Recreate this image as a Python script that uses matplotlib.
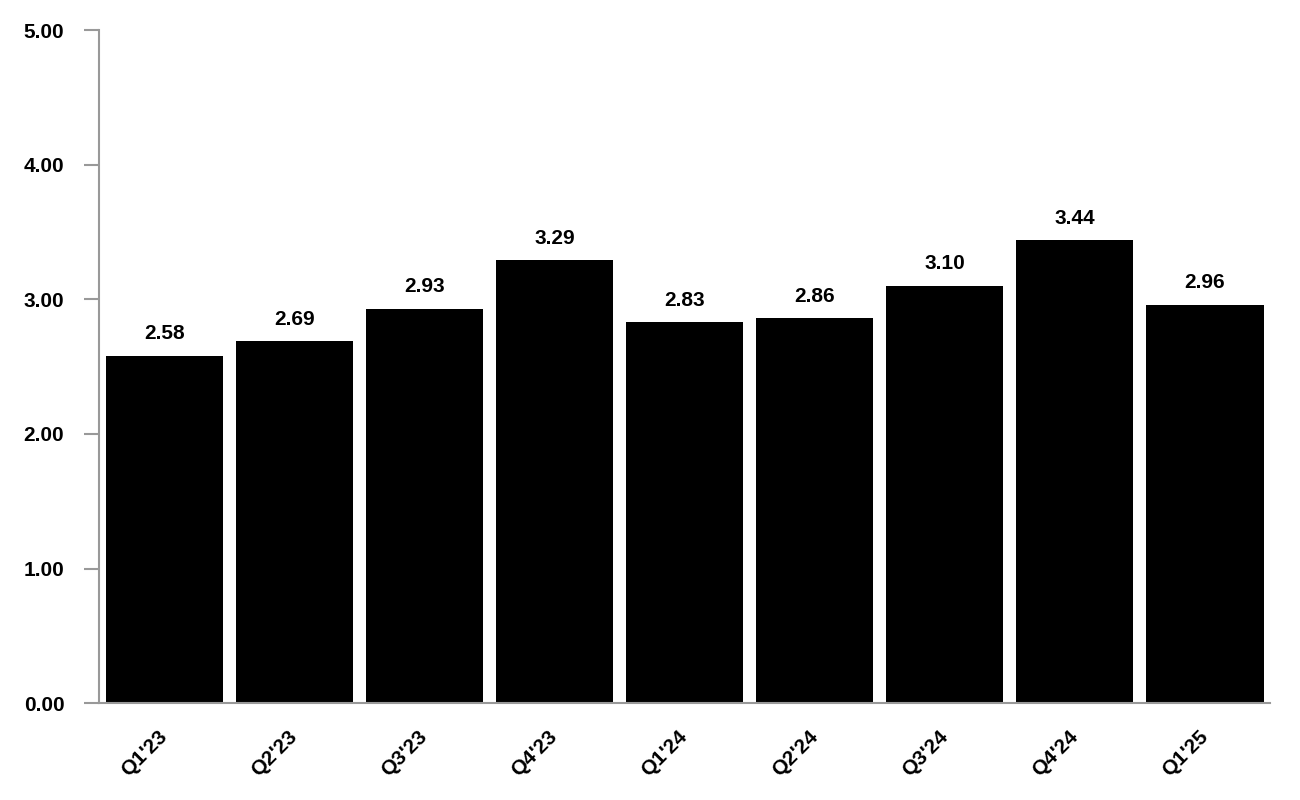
import matplotlib.pyplot as plt
import matplotlib.transforms as mtransforms

quarters = ["Q1'23", "Q2'23", "Q3'23", "Q4'23", "Q1'24", "Q2'24", "Q3'24", "Q4'24", "Q1'25"]
values = [2.58, 2.69, 2.93, 3.29, 2.83, 2.86, 3.10, 3.44, 2.96]
y_ticks = [0, 1, 2, 3, 4, 5]

plt.rcParams['font.family'] = ['Liberation Sans', 'DejaVu Sans']

fig = plt.figure(figsize=(13, 8), dpi=100)
ax = fig.add_axes([0.0762, 0.121, 0.9008, 0.8415])

x = list(range(len(quarters)))
ax.bar(x, values, width=0.9, color='black', zorder=2)

for xi, v in zip(x, values):
    ax.annotate(f"{v:.2f}", xy=(xi, v), xytext=(0, 9), textcoords='offset points',
                ha='center', va='bottom', fontsize=15, fontweight='bold')

ax.set_xlim(-0.5, len(quarters) - 0.5)
ax.set_ylim(0, 5)
ax.set_yticks(y_ticks)
ax.set_yticklabels([f"{t:.2f}" for t in y_ticks], fontsize=15, fontweight='bold')
ax.set_xticks(x)
ax.set_xticklabels(quarters, fontsize=15, fontweight='bold', rotation=45,
                   ha='right', va='center', rotation_mode='anchor')

# nudge rotated labels so their right end sits under the bar centre
offset = mtransforms.ScaledTranslation(-3 / 72, 0, fig.dpi_scale_trans)
for lbl in ax.get_xticklabels():
    lbl.set_transform(lbl.get_transform() + offset)

for side in ['top', 'right']:
    ax.spines[side].set_visible(False)
for side in ['left', 'bottom']:
    ax.spines[side].set_color('#999999')
    ax.spines[side].set_linewidth(1.5)

ax.tick_params(axis='y', direction='out', length=11, width=1.5, color='#999999', pad=14)
ax.tick_params(axis='x', length=0, pad=22)

fig.savefig('out.png', dpi=100)
